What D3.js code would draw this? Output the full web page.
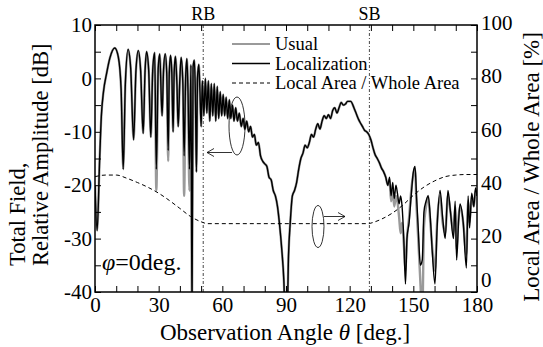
<!DOCTYPE html>
<html><head><meta charset="utf-8">
<script src="https://cdn.jsdelivr.net/npm/d3@7"></script>
<style>html,body{margin:0;padding:0;background:#fff;}</style>
</head>
<body><svg id="c" width="543" height="347"></svg>
<script>
// ---------- data ----------
const theta = [0,1.0,2.2,3.0,4.0,5.5,7.0,9.3,11.0,12.3,13.3,14.3,15.6,16.8,18.2,19.3,20.4,21.5,22.7,23.6,24.3,25.3,26.3,27.2,28.1,28.9,29.8,30.5,31.6,32.3,33.1,33.8,34.5,35.0,35.6,36.2,36.8,37.3,37.9,38.6,39.2,40.0,40.6,41.4,42.0,42.7,43.3,43.8,44.5,45.2,45.7,46.2,46.8,47.3,47.8,48.3,48.9,49.5,50.0,50.6,51.3,52.0,52.7,53.4,54.1,54.8,55.5,56.2,56.9,57.6,58.3,59.0,59.7,60.4,61.1,61.8,62.5,63.3,64.0,64.8,65.5,66.3,67.1,68.0,68.9,69.8,70.6,71.5,72.4,73.3,74.2,75.1,76.0,77.0,78.0,79.0,80.0,81.0,82.0,83.0,84.0,85.0,86.0,87.0,88.0,89.0,89.6,90.5,91.2,92.0,93.0,94.0,95.0,96.0,97.0,98.0,99.0,100.0,101.0,102.0,103.0,104.0,105.0,106.0,107.0,108.0,109.0,110.0,111.0,112.0,113.0,114.0,115.0,116.0,117.0,118.0,119.0,120.5,122.0,123.0,124.0,125.0,126.0,127.0,128.0,129.0,130.0,131.0,132.0,133.0,134.0,135.0,136.0,137.0,138.0,138.8,139.5,140.3,141.0,141.8,142.5,143.3,144.0,144.7,145.5,146.3,147.0,148.0,149.0,150.0,150.8,151.5,152.3,153.3,154.2,155.0,156.0,157.0,158.0,159.0,160.2,161.2,162.6,163.8,165.0,166.3,167.5,168.9,169.7,170.4,171.3,172.0,173.5,175.0,175.8,176.5,177.5,178.5,179.3,180.0];
const localization = [-20,-28.5,-15,-7,-2.5,1.0,3.8,5.7,4.0,-2,-17,-1,5.4,2,-11.5,1.5,5.2,1.5,-10.3,1.5,5.0,1.5,-11,1.5,4.8,-17,2,4.6,-7,1.5,4.6,1,-13.5,1,4.3,1,-10,1,4.1,-1,-9,0,3.9,-1,-14.5,0,3.7,-2,-17,2.5,-45,2,3.4,-3,-17.5,0,2.6,-3,-9,-0.5,-7,0,-6.5,-0.5,-8,-1,-7,-1,-8,-1.5,-7.5,-2.5,-7,-3,-7,-3.5,-7.5,-4,-7.5,-5,-8,-5.5,-8,-6.5,-9,-7.5,-9.5,-8,-10,-9,-11,-10.5,-12.5,-12,-14.5,-15.5,-16,-16.5,-18.5,-19,-21,-22,-24,-27.5,-32,-38,-45,-45,-33,-27,-22,-21,-19.5,-17,-15,-14,-12.5,-13,-12,-10.5,-11,-9.5,-8.5,-9.5,-8,-7,-7.5,-6.8,-7.5,-6,-5.5,-6.5,-5.5,-4.5,-5,-4.8,-4.3,-4.3,-5.5,-6.5,-7.5,-8.3,-9,-9.7,-10,-10.5,-11.5,-13,-14.3,-15,-15.8,-16.8,-17.5,-18.5,-20,-18.5,-22,-19.5,-22.5,-20,-21.5,-23.5,-22,-24,-30,-38.5,-30,-27,-22,-17.5,-16.5,-22,-28,-35,-34,-25,-23,-22,-26,-33,-38.5,-28,-21,-26,-30,-21,-25,-30,-23,-34,-27,-23.5,-27,-35.5,-22,-28,-21.5,-24,-20.5,-22];
const usual = [-20,-28.5,-15,-7,-2.5,1.0,3.8,5.7,4.0,-2,-17,-1,5.4,2,-11.5,1.5,5.2,1.5,-10.3,1.5,5.0,1.5,-11,1.5,4.8,-21,2,4.6,-7,1.5,4.6,1,-15.5,1,4.3,1,-10,1,4.1,-1,-9,0,3.9,-1,-22,0,3.7,-2,-21,2.5,-45,2,3.4,-3,-17.5,0,2.6,-3,-9,-0.5,-7,0,-6.5,-0.5,-8,-1,-7,-1,-8,-1.5,-7.5,-2.5,-7,-3,-7,-3.5,-7.5,-4,-7.5,-5,-8,-5.5,-8,-6.5,-9,-7.5,-9.5,-8,-10,-9,-11,-10.5,-12.5,-12,-14.5,-15.5,-16,-16.5,-18.5,-19,-21,-22,-24,-27.5,-32,-38,-45,-45,-33,-27,-22,-21,-19.5,-17,-15,-14,-12.5,-13,-12,-10.5,-11,-9.5,-8.5,-9.5,-8,-7,-7.5,-6.8,-7.5,-6,-5.5,-6.5,-5.5,-4.5,-5,-4.8,-4.3,-4.3,-5.5,-6.5,-7.5,-8.3,-9,-9.7,-10,-10.5,-11.5,-13,-14.3,-15,-15.8,-16.8,-17.5,-18.5,-20,-19,-23,-21,-24,-22,-23,-26,-29,-27,-31,-36,-30,-26,-21,-18,-17,-24,-30,-38,-45,-28,-24,-22,-27,-32,-36,-27,-22,-27,-29,-22,-25,-29,-24,-32,-26,-24,-27,-33,-23,-27,-22,-24,-21,-22];
const areaTheta = [0,5,10,15,20,25,30,35,40,45,50,53,90,129,130,135,140,145,150,155,160,165,170,175,180];
const areaPercent = [43.2,43.8,43.8,42.6,41.0,39.2,37.0,34.3,31.3,28.3,26.3,25.6,25.6,25.6,25.8,27.3,29.5,32.5,36.2,39.3,41.6,43.2,43.8,44.0,44.0];
const boundaries = [{name:"RB", angle:51}, {name:"SB", angle:129.3}];
const xTicks = [0,30,60,90,120,150,180];
const yLeftTicks = [-40,-30,-20,-10,0,10];
const yRightTicks = [0,20,40,60,80,100];
const legendItems = ["Usual","Localization","Local Area / Whole Area"];

// ---------- layout ----------
const FONT = "'Liberation Serif'";
const svg = d3.select("#c");
const L = 95, R = 477, T = 25, B = 292;
const x = d3.scaleLinear().domain([0,180]).range([L,R]);
const yL = d3.scaleLinear().domain([-40,10]).range([B,T]);
const yR = d3.scaleLinear().domain([0,100]).range([B,T]);
const FS = 21;

svg.append("defs").append("clipPath").attr("id","clip")
  .append("rect").attr("x",L).attr("y",T).attr("width",R-L).attr("height",B-T);

// boundary lines
boundaries.forEach(b=>{
  svg.append("line").attr("x1",x(b.angle)).attr("x2",x(b.angle)).attr("y1",T).attr("y2",B)
    .attr("stroke","#333").attr("stroke-width",0.9).attr("stroke-dasharray","3,2,1,2");
  svg.append("text").attr("x",x(b.angle)).attr("y",T-5).attr("text-anchor","middle")
    .style("font-family",FONT).attr("font-size",18).text(b.name);
});

const g = svg.append("g").attr("clip-path","url(#clip)");
const lineL = d3.line().x((d,i)=>x(theta[i])).y(d=>yL(d)).curve(d3.curveMonotoneX);
g.append("path").attr("d",lineL(usual)).attr("fill","none").attr("stroke","#9a9a9a").attr("stroke-width",2.4);
g.append("path").attr("d",lineL(localization)).attr("fill","none").attr("stroke","#000").attr("stroke-width",1.4);
const lineA = d3.line().x((d,i)=>x(areaTheta[i])).y(d=>yR(d)).curve(d3.curveMonotoneX);
g.append("path").attr("d",lineA(areaPercent)).attr("fill","none").attr("stroke","#000").attr("stroke-width",1).attr("stroke-dasharray","4,3");

// axes (ticks inward)
const tickLen = 6;
function styleAxis(sel){ sel.attr("font-family",null); sel.select(".domain").remove();
  sel.selectAll("line").attr("stroke","#000").attr("stroke-width",1);
  sel.selectAll("text").attr("font-size",FS).style("font-family",FONT).attr("fill","#000"); }
svg.append("g").attr("transform",`translate(0,${B})`)
  .call(d3.axisBottom(x).tickValues(d3.range(0,181,10)).tickSizeInner(-tickLen).tickSizeOuter(0)
    .tickPadding(5).tickFormat(d=>xTicks.includes(d)?d:""))
  .call(styleAxis);
svg.append("g").attr("transform",`translate(0,${T})`)
  .call(d3.axisTop(x).tickValues(d3.range(0,181,10)).tickSizeInner(-tickLen).tickSizeOuter(0).tickFormat(""))
  .call(styleAxis);
svg.append("g").attr("transform",`translate(${L},0)`)
  .call(d3.axisLeft(yL).tickValues(d3.range(-40,11,5)).tickSizeInner(-tickLen).tickSizeOuter(0)
    .tickPadding(3).tickFormat(d=>yLeftTicks.includes(d)?d:""))
  .call(styleAxis);
const rAx = svg.append("g").attr("transform",`translate(${R},0)`)
  .call(d3.axisRight(yR).tickValues(d3.range(0,101,10)).tickSizeInner(-tickLen).tickSizeOuter(0)
    .tickPadding(4).tickFormat(d=>yRightTicks.includes(d)?d:""))
  .call(styleAxis);
rAx.selectAll("text").attr("dy",d=>d===0?"-0.25em":"0.2em");
svg.append("rect").attr("x",L).attr("y",T).attr("width",R-L).attr("height",B-T)
  .attr("fill","none").attr("stroke","#000").attr("stroke-width",1.5);

// legend
const legStyles = [{c:"#9a9a9a",w:2,d:null},{c:"#000",w:1.4,d:null},{c:"#000",w:1,d:"4,3"}];
legendItems.forEach((t,i)=>{
  const yy = 44 + i*19.5;
  svg.append("line").attr("x1",232).attr("x2",270).attr("y1",yy).attr("y2",yy)
    .attr("stroke",legStyles[i].c).attr("stroke-width",legStyles[i].w).attr("stroke-dasharray",legStyles[i].d);
  svg.append("text").attr("x",275).attr("y",yy+6).style("font-family",FONT).attr("font-size",18.5).text(t);
});

// annotations
svg.append("ellipse").attr("cx",237).attr("cy",126).attr("rx",8).attr("ry",29).attr("fill","none").attr("stroke","#000").attr("stroke-width",0.8);
svg.append("line").attr("x1",232).attr("x2",207).attr("y1",152.5).attr("y2",152.5).attr("stroke","#000").attr("stroke-width",0.8);
svg.append("path").attr("d","M214,148.5 L207,152.5 L214,156.5").attr("fill","none").attr("stroke","#000").attr("stroke-width",0.8);
svg.append("ellipse").attr("cx",318).attr("cy",226.5).attr("rx",6).attr("ry",21).attr("fill","none").attr("stroke","#000").attr("stroke-width",0.8);
svg.append("line").attr("x1",324).attr("x2",345).attr("y1",216.5).attr("y2",216.5).attr("stroke","#000").attr("stroke-width",0.8);
svg.append("path").attr("d","M338,212.5 L345,216.5 L338,220.5").attr("fill","none").attr("stroke","#000").attr("stroke-width",0.8);

// phi label
const ph = svg.append("text").attr("x",102).attr("y",270).style("font-family",FONT).attr("font-size",24);
ph.append("tspan").attr("font-style","italic").text("φ");
ph.append("tspan").text("=0deg.");

// axis titles
const xt = svg.append("text").attr("x",(L+R)/2 - 1).attr("y",340).attr("text-anchor","middle").style("font-family",FONT).attr("font-size",23);
xt.append("tspan").text("Observation Angle ");
xt.append("tspan").attr("font-style","italic").text("θ");
xt.append("tspan").text(" [deg.]");
const lt = svg.append("text").attr("transform","translate(25,266) rotate(-90)").style("font-family",FONT).attr("font-size",22.5);
lt.append("tspan").attr("x",0).attr("y",0).text("Total Field,");
lt.append("tspan").attr("x",0).attr("y",23).text("Relative Amplitude [dB]");
svg.append("text").attr("transform","translate(539,167) rotate(-90)").attr("text-anchor","middle")
  .style("font-family",FONT).attr("font-size",23).text("Local Area / Whole Area [%]");
</script></body></html>
